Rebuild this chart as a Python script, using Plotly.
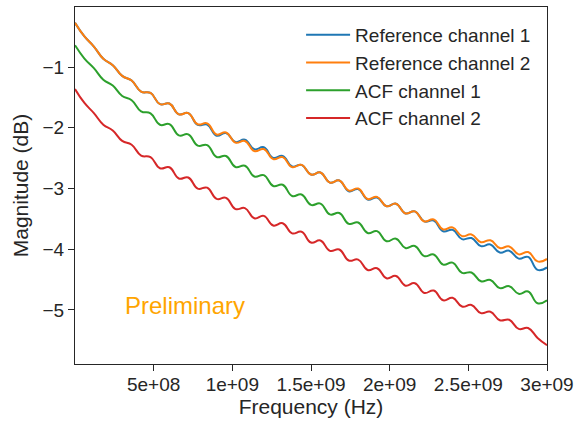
import plotly.graph_objects as go

freq_ghz = [0.00, 0.06, 0.12, 0.18, 0.24, 0.30, 0.36, 0.42, 0.48, 0.54,
            0.60, 0.66, 0.72, 0.78, 0.84, 0.90, 0.96, 1.02, 1.08, 1.14,
            1.20, 1.26, 1.32, 1.38, 1.44, 1.50, 1.56, 1.62, 1.68, 1.74,
            1.80, 1.86, 1.92, 1.98, 2.04, 2.10, 2.16, 2.22, 2.28, 2.34,
            2.40, 2.46, 2.52, 2.58, 2.64, 2.70, 2.76, 2.82, 2.88, 2.94, 3.00]

ref_ch1 = [-0.270, -0.495, -0.661, -0.864, -0.968, -1.145, -1.221, -1.404, -1.426, -1.610,
           -1.600, -1.778, -1.758, -1.952, -1.946, -2.130, -2.086, -2.234, -2.196, -2.354,
           -2.320, -2.496, -2.462, -2.638, -2.610, -2.770, -2.736, -2.902, -2.868, -3.044,
           -3.010, -3.182, -3.148, -3.292, -3.250, -3.410, -3.376, -3.542, -3.528, -3.704,
           -3.680, -3.834, -3.816, -3.949, -3.922, -4.055, -4.024, -4.154, -4.126, -4.340, -4.300]

ref_ch2 = [-0.270, -0.495, -0.661, -0.864, -0.968, -1.145, -1.221, -1.404, -1.426, -1.610,
           -1.600, -1.778, -1.758, -1.942, -1.926, -2.110, -2.076, -2.244, -2.216, -2.384,
           -2.350, -2.516, -2.482, -2.648, -2.610, -2.770, -2.736, -2.902, -2.868, -3.034,
           -3.000, -3.172, -3.138, -3.292, -3.250, -3.410, -3.376, -3.542, -3.508, -3.674,
           -3.640, -3.784, -3.756, -3.884, -3.852, -3.980, -3.954, -4.084, -4.046, -4.200, -4.160]

acf_ch1 = [-0.640, -0.859, -1.017, -1.208, -1.304, -1.475, -1.545, -1.728, -1.762, -1.950,
           -1.940, -2.124, -2.108, -2.292, -2.284, -2.480, -2.464, -2.646, -2.624, -2.802,
           -2.780, -2.958, -2.938, -3.122, -3.098, -3.270, -3.248, -3.426, -3.404, -3.582,
           -3.560, -3.732, -3.702, -3.868, -3.826, -3.980, -3.946, -4.114, -4.086, -4.254,
           -4.220, -4.388, -4.382, -4.528, -4.506, -4.640, -4.608, -4.734, -4.696, -4.890, -4.840]

acf_ch2 = [-1.360, -1.591, -1.757, -1.948, -2.044, -2.215, -2.279, -2.456, -2.484, -2.666,
           -2.650, -2.834, -2.818, -3.002, -2.986, -3.170, -3.154, -3.338, -3.322, -3.490,
           -3.450, -3.610, -3.572, -3.738, -3.712, -3.890, -3.856, -4.026, -4.004, -4.186,
           -4.170, -4.342, -4.312, -4.478, -4.440, -4.600, -4.560, -4.720, -4.680, -4.840,
           -4.800, -4.944, -4.918, -5.052, -5.030, -5.170, -5.162, -5.312, -5.298, -5.460, -5.580]

series_names = ["Reference channel 1", "Reference channel 2", "ACF channel 1", "ACF channel 2"]
series_colors = ["#1f77b4", "#ff7f0e", "#2ca02c", "#d62728"]

x_tickvals = [5e8, 1e9, 1.5e9, 2e9, 2.5e9, 3e9]
x_ticktext = ["5e+08", "1e+09", "1.5e+09", "2e+09", "2.5e+09", "3e+09"]
y_tickvals = [-1, -2, -3, -4, -5]
y_ticktext = ["\u22121", "\u22122", "\u22123", "\u22124", "\u22125"]

freq_hz = [f * 1e9 for f in freq_ghz]

fig = go.Figure()
for name, color, vals in zip(series_names, series_colors, [ref_ch1, ref_ch2, acf_ch1, acf_ch2]):
    fig.add_trace(go.Scatter(x=freq_hz, y=vals, mode="lines", name=name,
                             line=dict(color=color, width=2, shape="spline", smoothing=1.3)))

FONT = "Liberation Sans, Arial, sans-serif"
AX = "#262626"

fig.add_annotation(x=0.696e9, y=-4.93, text="Preliminary", showarrow=False,
                   font=dict(family=FONT, size=24, color="#FFA500"))

fig.update_layout(
    width=580, height=421,
    margin=dict(l=75, r=33, t=7, b=57),
    paper_bgcolor="white", plot_bgcolor="white",
    font=dict(family=FONT, color=AX, size=19),
    legend=dict(x=0.479, y=0.975, xanchor="left", yanchor="top",
                bgcolor="rgba(255,255,255,0)", font=dict(size=19, color=AX),
                tracegroupgap=0, itemwidth=44),
    showlegend=True,
)
fig.update_xaxes(range=[0, 3e9], tickvals=x_tickvals, ticktext=x_ticktext,
                 automargin=False,
                 showgrid=False, zeroline=False, showline=True, mirror=True,
                 linecolor=AX, linewidth=1.25, ticks="outside", ticklen=6,
                 tickcolor=AX, tickwidth=1.25, ticklabelstandoff=-3,
                 tickfont=dict(size=19, color=AX),
                 title=dict(text="Frequency (Hz)", font=dict(size=21, color=AX), standoff=2))
fig.update_yaxes(range=[-5.89, -0.01], tickvals=y_tickvals, ticktext=y_ticktext,
                 automargin=False,
                 showgrid=False, zeroline=False, showline=True, mirror=True,
                 linecolor=AX, linewidth=1.25, ticks="outside", ticklen=6,
                 tickcolor=AX, tickwidth=1.25,
                 tickfont=dict(size=19, color=AX),
                 title=dict(text="Magnitude (dB)", font=dict(size=21, color=AX), standoff=8))

fig.write_html("out.html", config={"displayModeBar": False},
               post_script="document.body.style.margin='0';document.body.style.padding='0';")
